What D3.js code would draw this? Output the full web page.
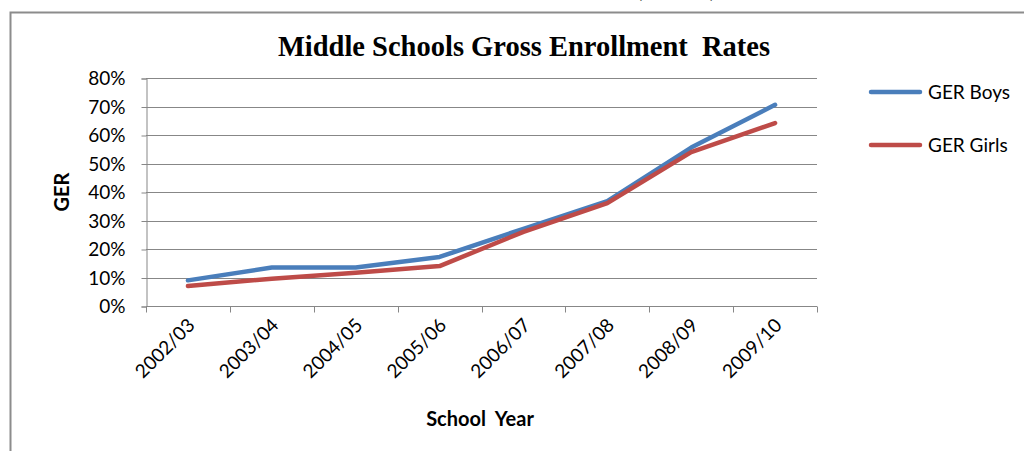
<!DOCTYPE html>
<html>
<head>
<meta charset="utf-8">
<script src="https://cdn.jsdelivr.net/npm/d3@7"></script>
<style>
  body { margin: 0; background: #fff; }
  svg { display: block; }
</style>
</head>
<body>
<div id="chart"></div>
<script>
var years = ['2002/03', '2003/04', '2004/05', '2005/06', '2006/07', '2007/08', '2008/09', '2009/10'];
var gerBoys = [0.090, 0.135, 0.135, 0.172, 0.271, 0.368, 0.556, 0.706];
var gerGirls = [0.070, 0.096, 0.117, 0.140, 0.260, 0.361, 0.540, 0.642];
var yTicks = [0, 0.1, 0.2, 0.3, 0.4, 0.5, 0.6, 0.7, 0.8];
var seriesNames = ['GER Boys', 'GER Girls'];
var seriesColors = ['#4a7ebb', '#be4b48'];

var width = 1024;
var height = 451;
var plotLeft = 146, plotRight = 817, plotTop = 78, plotBottom = 306;
var labelFont = 'Lato, "Open Sans", sans-serif';

var svg = d3.select('#chart').append('svg')
    .attr('width', width)
    .attr('height', height);

// cut-off caption above the chart frame
var caption = svg.append('g')
    .attr('font-family', labelFont)
    .attr('font-size', '20px')
    .attr('fill', '#000');
caption.append('text').attr('x', 25).attr('y', -4).text('g');
caption.append('text').attr('x', 637).attr('y', -2)
    .attr('textLength', 78).text('(GER)');
caption.append('text').attr('x', 818).attr('y', -4).text('g');

// chart frame
svg.append('rect')
    .attr('x', 10.5)
    .attr('y', 12.5)
    .attr('width', 1030)
    .attr('height', 460)
    .attr('fill', '#fff')
    .attr('stroke', '#8c8c8c')
    .attr('stroke-width', 2);

var x = d3.scaleBand()
    .domain(years)
    .range([plotLeft, plotRight]);

var y = d3.scaleLinear()
    .domain([0, 0.8])
    .range([plotBottom, plotTop]);

// horizontal gridlines
svg.append('g')
    .selectAll('line')
    .data(yTicks.slice(1))
    .enter().append('line')
    .attr('x1', plotLeft)
    .attr('x2', plotRight)
    .attr('y1', function(d) { return Math.round(y(d)) + 0.5; })
    .attr('y2', function(d) { return Math.round(y(d)) + 0.5; })
    .attr('stroke', '#878787')
    .attr('stroke-width', 1);

// y axis
var yAxis = svg.append('g')
    .attr('transform', 'translate(' + (plotLeft + 0.5) + ',0.5)')
    .call(d3.axisLeft(y).tickValues(yTicks).tickFormat(d3.format('.0%')).tickSize(5).tickPadding(16));
yAxis.select('.domain').attr('stroke', '#878787');
yAxis.selectAll('.tick line').attr('stroke', '#878787');
yAxis.selectAll('text')
    .attr('font-family', labelFont)
    .attr('font-size', '19px')
    .attr('fill', '#000');

// x axis with ticks on category boundaries
var xAxis = svg.append('g')
    .attr('transform', 'translate(0,' + (plotBottom + 0.5) + ')');
xAxis.append('line')
    .attr('x1', plotLeft)
    .attr('x2', plotRight)
    .attr('stroke', '#878787');
xAxis.selectAll('.xtick')
    .data(years.concat(['end']))
    .enter().append('line')
    .attr('class', 'xtick')
    .attr('x1', function(d, i) { return Math.round(plotLeft + i * x.step()) + 0.5; })
    .attr('x2', function(d, i) { return Math.round(plotLeft + i * x.step()) + 0.5; })
    .attr('y1', 0)
    .attr('y2', 6)
    .attr('stroke', '#878787');
xAxis.selectAll('.xlabel')
    .data(years)
    .enter().append('text')
    .attr('class', 'xlabel')
    .attr('transform', function(d) {
        return 'translate(' + (x(d) + x.bandwidth() / 2 + 8) + ',20) rotate(-45)';
    })
    .attr('text-anchor', 'end')
    .attr('font-family', labelFont)
    .attr('font-size', '19px')
    .attr('fill', '#000')
    .text(function(d) { return d; });

// lines
var line = d3.line()
    .x(function(d, i) { return x(years[i]) + x.bandwidth() / 2; })
    .y(function(d) { return y(d); });

[gerBoys, gerGirls].forEach(function(values, k) {
    svg.append('path')
        .datum(values)
        .attr('d', line)
        .attr('fill', 'none')
        .attr('stroke', seriesColors[k])
        .attr('stroke-width', 4.5)
        .attr('stroke-linecap', 'round')
        .attr('stroke-linejoin', 'round');
});

// title
svg.append('text')
    .attr('x', 524)
    .attr('y', 56)
    .attr('text-anchor', 'middle')
    .attr('font-family', '"Liberation Serif", "Times New Roman", serif')
    .attr('font-weight', 'bold')
    .attr('font-size', '28.5px')
    .attr('fill', '#000')
    .style('white-space', 'pre')
    .text('Middle Schools Gross Enrollment  Rates');

// axis titles
svg.append('text')
    .attr('transform', 'translate(69,192) rotate(-90)')
    .attr('text-anchor', 'middle')
    .attr('font-family', labelFont)
    .attr('font-weight', 'bold')
    .attr('font-size', '20px')
    .attr('fill', '#000')
    .text('GER');

svg.append('text')
    .attr('x', 480)
    .attr('y', 426)
    .attr('text-anchor', 'middle')
    .attr('font-family', labelFont)
    .attr('font-weight', 'bold')
    .attr('font-size', '20px')
    .attr('fill', '#000')
    .style('white-space', 'pre')
    .text('School  Year');

// legend
var legend = svg.append('g');
seriesNames.forEach(function(name, k) {
    var ly = 92 + k * 53;
    legend.append('line')
        .attr('x1', 871)
        .attr('x2', 920)
        .attr('y1', ly)
        .attr('y2', ly)
        .attr('stroke', seriesColors[k])
        .attr('stroke-width', 4.5)
        .attr('stroke-linecap', 'round');
    legend.append('text')
        .attr('x', 928)
        .attr('y', ly + 7)
        .attr('font-family', labelFont)
        .attr('font-size', '19px')
        .attr('fill', '#000')
        .text(name);
});
</script>
</body>
</html>
